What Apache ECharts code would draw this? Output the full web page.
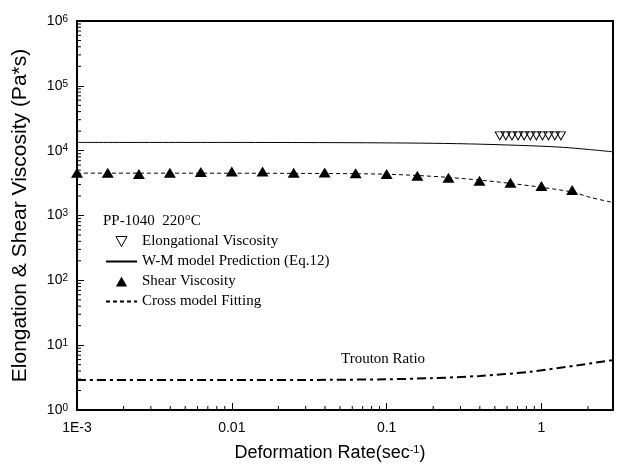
<!DOCTYPE html>
<html>
<head>
<meta charset="utf-8">
<script src="https://cdn.jsdelivr.net/npm/echarts@6/dist/echarts.min.js"></script>
<style>
  html, body { margin: 0; padding: 0; background: #fff; }
  #main { width: 618px; height: 472px; }
</style>
</head>
<body>
<div id="main"></div>
<script>
// deformation rate (1/s) and viscosity (Pa*s)
const elongRate = [0.538, 0.589, 0.645, 0.706, 0.773, 0.847, 0.927, 1.015, 1.11, 1.22, 1.335];
const elongVisc = [16900, 16900, 16900, 16900, 16900, 16900, 16900, 16900, 16900, 16900, 16900];

const wmRate = [0.001, 0.01, 0.043, 0.09, 0.2, 0.4, 0.85, 1.39, 2, 2.9];
const wmVisc = [13400, 13400, 13300, 13200, 13000, 12600, 11900, 11250, 10450, 9600];

const shearRate = [0.001, 0.00158, 0.00251, 0.00398, 0.00631, 0.01, 0.0158, 0.0251, 0.0398, 0.0631,
  0.1, 0.158, 0.251, 0.398, 0.631, 1, 1.58];
const shearVisc = [4560, 4560, 4360, 4560, 4680, 4790, 4790, 4560, 4620, 4500,
  4360, 4100, 3820, 3430, 3200, 2840, 2470];

const crossRate = [0.001, 0.01, 0.03, 0.063, 0.1, 0.158, 0.251, 0.398, 0.631, 1, 1.58, 2.07, 2.9];
const crossVisc = [4500, 4490, 4460, 4410, 4330, 4140, 3870, 3520, 3130, 2720, 2300, 1900, 1590];

const troutonRate = [0.001, 0.01, 0.043, 0.1, 0.19, 0.4, 0.85, 1.77, 2.9];
const troutonVal = [2.9, 2.9, 2.92, 2.98, 3.09, 3.35, 3.9, 4.95, 5.9];

const xLabels = { 0.001: "1E-3", 0.01: "0.01", 0.1: "0.1", 1: "1" };

const xMin = 0.001, xMax = 2.9;
const yMin = 1, yMax = 1e6;

// minor ticks (2..9 in each decade)
const xMinor = [];
for (let d = -3; d <= 0; d++) {
  for (let k = 2; k <= 9; k++) {
    const v = k * Math.pow(10, d);
    if (v < xMax) xMinor.push(v);
  }
}
const yMinor = [];
for (let d = 0; d <= 5; d++) {
  for (let k = 2; k <= 9; k++) yMinor.push(k * Math.pow(10, d));
}

const zip = (a, b) => a.map((v, i) => [v, b[i]]);

const sans = "Liberation Sans";
const serif = "Liberation Serif";

const chart = echarts.init(document.getElementById("main"));

const option = {
  animation: false,
  backgroundColor: "#fff",
  title: {
    text: "PP-1040  220°C",
    left: 103,
    top: 214,
    padding: 0,
    textStyle: { fontFamily: serif, fontSize: 15, fontWeight: "normal", color: "#000" },
  },
  legend: {
    orient: "vertical",
    left: 105,
    top: 234,
    padding: 0,
    itemWidth: 31,
    itemHeight: 10,
    itemGap: 5,
    symbolKeepAspect: true,
    textStyle: { fontFamily: serif, fontSize: 15, color: "#000" },
    data: [
      {
        name: "Elongational Viscosity",
        icon: "path://M0,0L10,0L5,9Z",
        itemStyle: { color: "rgba(0,0,0,0)", borderColor: "#000", borderWidth: 1, opacity: 1 },
      },
      { name: "W-M model Prediction (Eq.12)", itemStyle: { opacity: 0 } },
      { name: "Shear Viscosity", icon: "path://M5,0L10,9L0,9Z", itemStyle: { color: "#000", opacity: 1 } },
      { name: "Cross model Fitting", itemStyle: { opacity: 0 } },
    ],
  },
  grid: {
    left: 77,
    right: 5,
    top: 21,
    bottom: 62,
    show: true,
    borderColor: "#000",
    borderWidth: 2,
  },
  xAxis: {
    type: "log",
    logBase: 10,
    min: xMin,
    max: xMax,
    splitNumber: 4,
    name: "Deformation Rate(sec{s|-1})",
    nameLocation: "middle",
    nameGap: 34,
    nameTextStyle: {
      fontFamily: sans,
      fontSize: 18,
      color: "#000",
      padding: [0, 30, 0, 0],
      rich: { s: { fontFamily: sans, fontSize: 11, verticalAlign: "top", color: "#000" } },
    },
    axisLine: { lineStyle: { color: "#000", width: 2 } },
    axisTick: { inside: true, length: 7, lineStyle: { color: "#000", width: 1 } },
    splitLine: { show: false },
    axisLabel: {
      margin: 11,
      fontFamily: sans,
      fontSize: 14,
      color: "#000",
      formatter: (v) => {
        for (const k in xLabels) {
          if (Math.abs(v / Number(k) - 1) < 1e-6) return xLabels[k];
        }
        return "";
      },
    },
  },
  yAxis: {
    type: "log",
    logBase: 10,
    min: yMin,
    max: yMax,
    splitNumber: 6,
    name: "Elongation & Shear Viscosity (Pa*s)",
    nameLocation: "middle",
    nameGap: 46,
    nameTextStyle: { fontFamily: sans, fontSize: 21, color: "#000" },
    axisLine: { lineStyle: { color: "#000", width: 2 } },
    axisTick: { inside: true, length: 7, lineStyle: { color: "#000", width: 1 } },
    splitLine: { show: false },
    axisLabel: {
      margin: 9,
      color: "#000",
      formatter: (v) => "{b|10}{s|" + Math.round(Math.log10(v)) + "}",
      rich: {
        b: { fontFamily: sans, fontSize: 14, color: "#000" },
        s: { fontFamily: sans, fontSize: 10, verticalAlign: "top", color: "#000" },
      },
    },
  },
  series: [
    {
      name: "W-M model Prediction (Eq.12)",
      type: "line",
      smooth: 0.3,
      symbol: "none",
      lineStyle: { color: "#000", width: 1 },
      itemStyle: { color: "#000" },
      data: zip(wmRate, wmVisc),
      z: 2,
    },
    {
      name: "Cross model Fitting",
      type: "line",
      smooth: 0.3,
      symbol: "none",
      lineStyle: { color: "#000", width: 1, type: [4, 3] },
      itemStyle: { color: "#000" },
      data: zip(crossRate, crossVisc),
      z: 2,
    },
    {
      name: "Trouton Ratio",
      type: "line",
      smooth: 0.3,
      symbol: "none",
      lineStyle: { color: "#000", width: 2, type: [9, 4, 3, 4] },
      data: zip(troutonRate, troutonVal),
      z: 2,
    },
    {
      name: "Shear Viscosity",
      type: "scatter",
      symbol: "triangle",
      symbolSize: [12, 10],
      itemStyle: { color: "#000", opacity: 1 },
      data: zip(shearRate, shearVisc),
      z: 4,
    },
    {
      name: "Elongational Viscosity",
      type: "scatter",
      symbol: "triangle",
      symbolRotate: 180,
      symbolSize: [9, 8],
      itemStyle: { color: "rgba(0,0,0,0)", borderColor: "#000", borderWidth: 1, opacity: 1 },
      data: zip(elongRate, elongVisc),
      z: 4,
    },
    {
      type: "custom",
      silent: true,
      clip: false,
      data: xMinor.map((v) => [v, yMin]),
      renderItem: (params, api) => {
        const p = api.coord([api.value(0), api.value(1)]);
        return {
          type: "line",
          shape: { x1: p[0], y1: p[1], x2: p[0], y2: p[1] - 4 },
          style: { stroke: "#000", lineWidth: 1 },
        };
      },
      z: 5,
    },
    {
      type: "custom",
      silent: true,
      clip: false,
      data: yMinor.map((v) => [xMin, v]),
      renderItem: (params, api) => {
        const p = api.coord([api.value(0), api.value(1)]);
        return {
          type: "line",
          shape: { x1: p[0], y1: p[1], x2: p[0] + 4, y2: p[1] },
          style: { stroke: "#000", lineWidth: 1 },
        };
      },
      z: 5,
    },
  ],
  graphic: [
    {
      type: "text",
      left: 341,
      top: 352,
      style: { text: "Trouton Ratio", fontFamily: serif, fontSize: 15, fill: "#000" },
    },
  ],
};

chart.setOption(option);
</script>
</body>
</html>
